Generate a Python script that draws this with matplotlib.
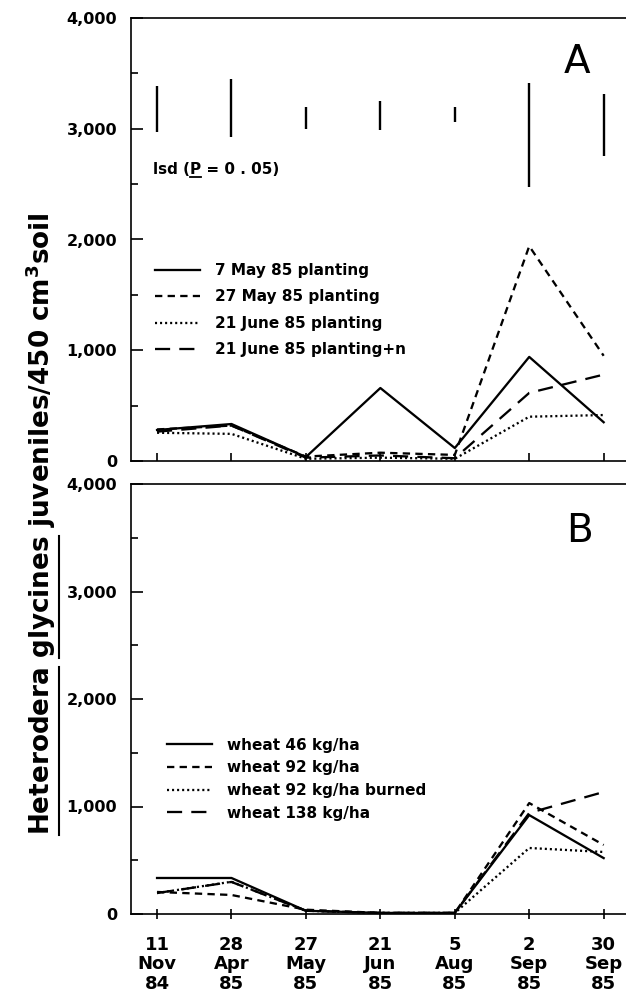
import matplotlib
matplotlib.use('Agg')
import matplotlib.pyplot as plt
from matplotlib.lines import Line2D
from matplotlib.font_manager import FontProperties

plt.rcParams['font.family'] = ['DejaVu Sans']
plt.rcParams['mathtext.fontset'] = 'dejavusans'

# ---------------- data ----------------
date_labels = ['11\nNov\n84', '28\nApr\n85', '27\nMay\n85', '21\nJun\n85',
               '5\nAug\n85', '2\nSep\n85', '30\nSep\n85']

a_labels = ['7 May 85 planting', '27 May 85 planting',
            '21 June 85 planting', '21 June 85 planting+n']
a_may7 = [280, 334, 36, 659, 117, 940, 350]
a_may27 = [285, 320, 40, 75, 55, 1940, 950]
a_jun21 = [255, 245, 20, 30, 20, 400, 415]
a_jun21n = [265, 320, 30, 50, 25, 615, 780]

lsd_low = [2970, 2925, 2997, 2990, 3060, 2475, 2755]
lsd_high = [3385, 3450, 3195, 3250, 3195, 3415, 3315]

b_labels = ['wheat 46 kg/ha', 'wheat 92 kg/ha',
            'wheat 92 kg/ha burned', 'wheat 138 kg/ha']
b_w46 = [335, 335, 30, 10, 10, 920, 520]
b_w92 = [205, 177, 40, 10, 10, 1032, 642]
b_w92b = [195, 300, 30, 10, 10, 614, 577]
b_w138 = [195, 298, 30, 10, 10, 940, 1135]

yticks = [0, 1000, 2000, 3000, 4000]
ytick_labels = ['0', '1,000', '2,000', '3,000', '4,000']
yminor = [500, 1500, 2500, 3500]

ylabel_main = 'Heterodera glycines juveniles/450 cm$^{\\mathbf{3}}$soil'

# ---------------- styles ----------------
styles = ['-', (0, (3.2, 2.3)), (0, (0.9, 1.3)), (0, (6.6, 4.0))]
LW = 1.65

W, H = 626, 1005
fig = plt.figure(figsize=(W / 100, H / 100), dpi=100)
axA = fig.add_axes([131 / W, 1 - 461 / H, 495 / W, 443 / H])
axB = fig.add_axes([131 / W, 1 - 914 / H, 495 / W, 430 / H])

x = list(range(len(date_labels)))

for ax in (axA, axB):
    ax.set_xlim(-0.35, 6.3)
    ax.set_ylim(0, 4000)
    ax.set_yticks(yticks)
    ax.set_yticklabels(ytick_labels, fontweight='bold', fontsize=11.5)
    ax.set_yticks(yminor, minor=True)
    ax.tick_params(axis='y', which='major', direction='in', length=8.5,
                   width=1.2, pad=10)
    ax.tick_params(axis='y', which='minor', direction='in', length=5,
                   width=1.2)
    ax.set_xticks(x)
    ax.spines['right'].set_visible(False)
    for s in ('left', 'top', 'bottom'):
        ax.spines[s].set_linewidth(1.2)

axA.tick_params(axis='x', direction='in', length=6, width=1.2,
                labelbottom=False)
axB.set_xticklabels(date_labels, fontsize=13, fontweight='bold',
                    linespacing=1.12)
axB.tick_params(axis='x', direction='inout', length=7, width=1.2, pad=12)

# panel A
for vals, ls, lab in zip([a_may7, a_may27, a_jun21, a_jun21n], styles, a_labels):
    axA.plot(x, vals, color='black', lw=LW, linestyle=ls, label=lab)
axA.vlines(x, lsd_low, lsd_high, color='black', lw=1.7)

axA.legend(loc='upper left', bbox_to_anchor=(0.048, 0.447), frameon=False,
           handlelength=2.95, handletextpad=1.0, labelspacing=0.75,
           borderaxespad=0, borderpad=0,
           prop={'weight': 'bold', 'size': 11})

# panel B
for vals, ls, lab in zip([b_w46, b_w92, b_w92b, b_w138], styles, b_labels):
    axB.plot(x, vals, color='black', lw=LW, linestyle=ls, label=lab)

axB.legend(loc='upper left', bbox_to_anchor=(0.073, 0.41), frameon=False,
           handlelength=2.95, handletextpad=1.0, labelspacing=0.5,
           borderaxespad=0, borderpad=0,
           prop={'weight': 'bold', 'size': 11})

axA.text(0.90, 0.90, 'A', transform=axA.transAxes, fontsize=28,
         ha='center', va='center')
axB.text(0.907, 0.89, 'B', transform=axB.transAxes, fontsize=28,
         ha='center', va='center')

lsd_fp = FontProperties(family='DejaVu Sans', weight='bold', size=11)
lsd_txt = axA.text(0.044, 0.648, 'lsd (P = 0 . 05)', transform=axA.transAxes,
                   fontproperties=lsd_fp, va='baseline', ha='left')

# y label (size fitted to the reference length)
lab_fp = FontProperties(family='DejaVu Sans', weight='bold', size=19)
fig.canvas.draw()
r = fig.canvas.get_renderer()
ylab = fig.text(41 / W, 1 - 524 / H, ylabel_main, rotation=90,
                ha='center', va='center', fontproperties=lab_fp)
bb = ylab.get_window_extent(r)
target = 622.0
lab_fp.set_size(19 * target / bb.height)
ylab.set_fontproperties(lab_fp)
fig.canvas.draw()
bb = ylab.get_window_extent(r)


def tw(s, fp):
    w, h, d = r.get_text_width_height_descent(s, fp, ismath=False)
    return w


ux = bb.x1 + 0.5
y0 = bb.y0
seg = [(0, tw('Heterodera', lab_fp)),
       (tw('Heterodera ', lab_fp), tw('Heterodera glycines', lab_fp))]
for a, b in seg:
    fig.add_artist(Line2D([ux / W, ux / W], [(y0 + a) / H, (y0 + b) / H],
                          transform=fig.transFigure, color='black', lw=1.5))

# underline P in lsd text
lb = lsd_txt.get_window_extent(r)
px0 = lb.x0 + tw('lsd (', lsd_fp)
px1 = lb.x0 + tw('lsd (P', lsd_fp)
base = axA.transAxes.transform((0, 0.648))[1]
fig.add_artist(Line2D([px0 / W, px1 / W], [(base - 3) / H, (base - 3) / H],
                      transform=fig.transFigure, color='black', lw=1.3))

fig.savefig('out.png', dpi=100)
